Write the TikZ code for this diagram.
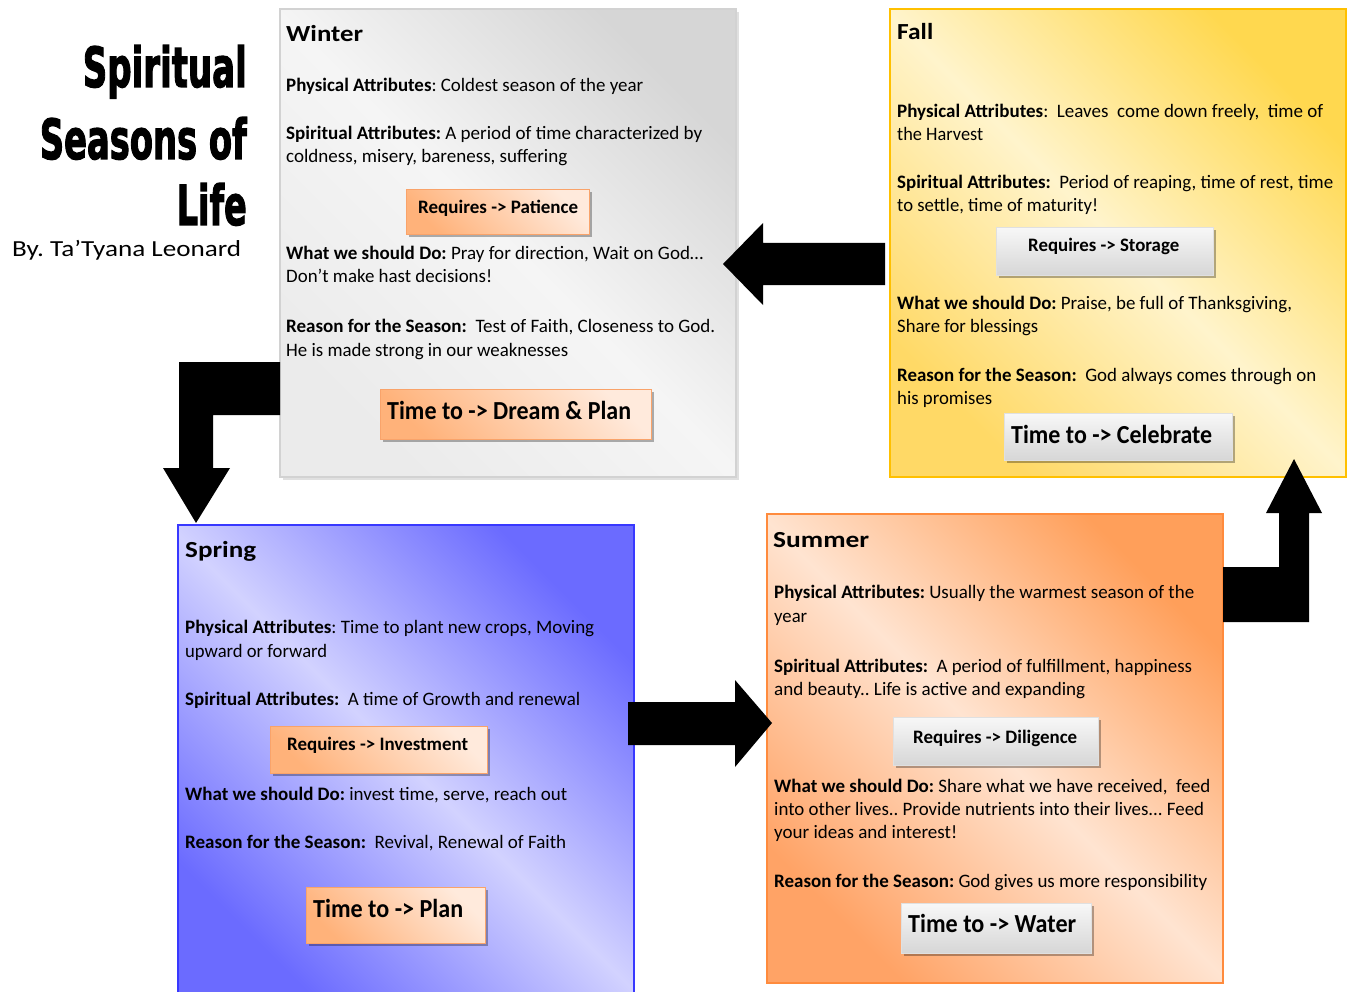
\documentclass[tikz,border=0pt]{standalone}
\usepackage{fontspec}
\setmainfont{Carlito}
\newfontfamily\titlefont[BoldFeatures={FakeBold=2.5}]{DejaVu Sans}
\usepackage{graphicx}
\usetikzlibrary{shadows}
\definecolor{wlo}{HTML}{EBEBEB}\definecolor{wmid}{HTML}{F5F5F5}\definecolor{whi}{HTML}{D6D6D6}\definecolor{wbord}{HTML}{D2D2D2}
\definecolor{flo}{HTML}{FFD966}\definecolor{fmid}{HTML}{FFF4CC}\definecolor{fhi}{HTML}{FFD84F}\definecolor{fbord}{HTML}{FFC000}
\definecolor{slo}{HTML}{6B6BFF}\definecolor{smid}{HTML}{D2D2FF}\definecolor{shi}{HTML}{6B6BFF}\definecolor{sbord}{HTML}{3838FF}
\definecolor{ulo}{HTML}{FFA366}\definecolor{umid}{HTML}{FFE4D1}\definecolor{uhi}{HTML}{FF9F5A}\definecolor{ubord}{HTML}{FF8B3D}
\definecolor{olo}{HTML}{FFB27A}\definecolor{ohi}{HTML}{FFEADC}\definecolor{obord}{HTML}{F9A36A}
\newcommand{\tx}[6]{\node[#1] (#2) at (#3,#4) {\resizebox{#5pt}{\height}{#6}};}
\frenchspacing
\tikzset{
  panel/.style={anchor=north west, inner sep=0pt, outer sep=0pt, line width=1.2pt},
  winterfill/.style={draw=wbord, top color=whi, bottom color=wlo, middle color=wmid, shading angle=-45,
     drop shadow={shadow xshift=3pt, shadow yshift=-3pt, fill=black, opacity=0.12}},
  fallfill/.style={draw=fbord, line width=1.6pt, top color=fhi, bottom color=flo, middle color=fmid, shading angle=-45},
  springfill/.style={draw=sbord, top color=shi, bottom color=slo, middle color=smid, shading angle=-45},
  summerfill/.style={draw=ubord, line width=1.6pt, top color=uhi, bottom color=ulo, middle color=umid, shading angle=-45},
  obox/.style={anchor=north west, inner sep=0pt, draw=obord, line width=0.8pt, top color=ohi, bottom color=olo, shading angle=-45,
     drop shadow={shadow xshift=3pt, shadow yshift=-3pt, fill=black, opacity=0.3}},
  gbox/.style={anchor=north west, inner sep=0pt, draw=black!12, line width=0.6pt, top color=white!97!black, bottom color=black!16,
     drop shadow={shadow xshift=3pt, shadow yshift=-3pt, fill=black, opacity=0.3}},
  tb/.style={anchor=base west, inner sep=0pt, font=\fontsize{19}{22}\selectfont},
  th/.style={anchor=base west, inner sep=0pt, font=\bfseries\fontsize{23}{27}\selectfont},
  tq/.style={anchor=base west, inner sep=0pt, font=\bfseries\fontsize{19}{22}\selectfont},
  tt/.style={anchor=base west, inner sep=0pt, font=\bfseries\fontsize{26}{30}\selectfont},
  ttl/.style={anchor=base east, inner sep=0pt, font=\titlefont\bfseries\fontsize{40}{44}\selectfont},
  byl/.style={anchor=base west, inner sep=0pt, font=\fontsize{23}{27}\selectfont},
  blockarrow/.style={fill=black}
}
\begin{document}
\begin{tikzpicture}[x=1pt,y=-1pt]
\useasboundingbox (0,0) rectangle (1351,992);
\fill[white] (0,0) rectangle (1351,992);

% title
\node[ttl] (t1) at (247,87) {\resizebox{164pt}{42pt}{Spiritual}};
\node[ttl] (t2) at (247,159) {\resizebox{207pt}{42pt}{Seasons of}};
\node[ttl] (t3) at (247,225) {\resizebox{70pt}{42pt}{Life}};
\node[byl] (by) at (12,257) {\resizebox{229pt}{\height}{By. Ta’Tyana Leonard}};

% panels
\node[panel, winterfill, minimum width=456pt, minimum height=468pt] (winter) at (280,9) {};
\node[panel, fallfill, minimum width=456pt, minimum height=468pt] (fall) at (890,9) {};
\node[panel, springfill, minimum width=456pt, minimum height=475pt] (spring) at (178,525) {};
\node[panel, summerfill, minimum width=456pt, minimum height=469pt] (summer) at (767,514) {};

% inner boxes
\node[obox, minimum width=183pt, minimum height=45pt] (wQb) at (406,189) {};
\node[obox, minimum width=271pt, minimum height=50pt] (wXb) at (380,389) {};
\node[gbox, minimum width=217pt, minimum height=48pt] (fQb) at (996,227) {};
\node[gbox, minimum width=228pt, minimum height=47pt] (fXb) at (1004,413) {};
\node[obox, minimum width=217pt, minimum height=47pt] (sQb) at (270,726) {};
\node[obox, minimum width=179pt, minimum height=56pt] (sXb) at (306,887) {};
\node[gbox, minimum width=205pt, minimum height=48pt] (uQb) at (893,717) {};
\node[gbox, minimum width=190pt, minimum height=50pt] (uXb) at (901,903) {};

% Winter
\tx{th}{wT}{286}{42}{77}{Winter}
\tx{tb}{wP}{286}{92}{357}{\textbf{Physical Attributes}: Coldest season of the year}
\tx{tb}{wS1}{286}{140}{416}{\textbf{Spiritual Attributes:} A period of time characterized by}
\tx{tb}{wS2}{286}{163}{281}{coldness, misery, bareness, suffering}
\tx{tq}{wQ}{418}{214}{160}{Requires -> Patience}
\tx{tb}{wD1}{286}{260}{417}{\textbf{What we should Do:} Pray for direction, Wait on God…}
\tx{tb}{wD2}{286}{283}{206}{Don’t make hast decisions!}
\tx{tb}{wR1}{286}{332}{429}{\textbf{Reason for the Season:}\ \ Test of Faith, Closeness to God.}
\tx{tb}{wR2}{286}{356}{282}{He is made strong in our weaknesses}
\tx{tt}{wX}{387}{419}{244}{Time to -> Dream \& Plan}

% Fall
\tx{th}{fT}{897}{40}{36}{Fall}
\tx{tb}{fP1}{897}{118}{426}{\textbf{Physical Attributes}:\ \ Leaves\ \ come down freely,\ \ time of}
\tx{tb}{fP2}{897}{141}{86}{the Harvest}
\tx{tb}{fS1}{897}{189}{436}{\textbf{Spiritual Attributes:}\ \ Period of reaping, time of rest, time}
\tx{tb}{fS2}{897}{212}{201}{to settle, time of maturity!}
\tx{tq}{fQ}{1028}{252}{151}{Requires -> Storage}
\tx{tb}{fD1}{897}{309}{395}{\textbf{What we should Do:} Praise, be full of Thanksgiving,}
\tx{tb}{fD2}{897}{332}{141}{Share for blessings}
\tx{tb}{fR1}{897}{381}{419}{\textbf{Reason for the Season:}\ \ God always comes through on}
\tx{tb}{fR2}{897}{404}{95}{his promises}
\tx{tt}{fX}{1011}{443}{201}{Time to -> Celebrate}

% Spring
\tx{th}{sT}{185}{557}{71}{Spring}
\tx{tb}{sP1}{185}{633}{409}{\textbf{Physical Attributes}: Time to plant new crops, Moving}
\tx{tb}{sP2}{185}{657}{142}{upward or forward}
\tx{tb}{sS}{185}{705}{395}{\textbf{Spiritual Attributes:}\ \ A time of Growth and renewal}
\tx{tq}{sQ}{287}{750}{181}{Requires -> Investment}
\tx{tb}{sD}{185}{800}{382}{\textbf{What we should Do:} invest time, serve, reach out}
\tx{tb}{sR}{185}{848}{381}{\textbf{Reason for the Season:}\ \ Revival, Renewal of Faith}
\tx{tt}{sX}{313}{917}{150}{Time to -> Plan}

% Summer
\tx{th}{uT}{773}{547}{96}{Summer}
\tx{tb}{uP1}{774}{598}{420}{\textbf{Physical Attributes:} Usually the warmest season of the}
\tx{tb}{uP2}{774}{622}{33}{year}
\tx{tb}{uS1}{774}{672}{418}{\textbf{Spiritual Attributes:}\ \ A period of fulfillment, happiness}
\tx{tb}{uS2}{774}{695}{311}{and beauty.. Life is active and expanding}
\tx{tq}{uQ}{913}{743}{164}{Requires -> Diligence}
\tx{tb}{uD1}{774}{792}{436}{\textbf{What we should Do:} Share what we have received,\ \ feed}
\tx{tb}{uD2}{774}{815}{430}{into other lives.. Provide nutrients into their lives... Feed}
\tx{tb}{uD3}{774}{838}{183}{your ideas and interest!}
\tx{tb}{uR}{774}{887}{433}{\textbf{Reason for the Season:} God gives us more responsibility}
\tx{tt}{uX}{908}{932}{168}{Time to -> Water}

% block arrows
\fill[blockarrow] (885,243) -- (763,243) -- (763,223) -- (723,264) -- (763,305) -- (763,285) -- (885,285) -- cycle;
\fill[blockarrow] (628,702) -- (735,702) -- (735,680) -- (772,723) -- (735,767) -- (735,745) -- (628,745) -- cycle;
\fill[blockarrow] (280,362) -- (179,362) -- (179,468) -- (163,468) -- (196,523) -- (230,468) -- (213,468) -- (213,415) -- (280,415) -- cycle;
\fill[blockarrow] (1223,567) -- (1279,567) -- (1279,513) -- (1266,513) -- (1294,459) -- (1322,513) -- (1309,513) -- (1309,622) -- (1223,622) -- cycle;
\end{tikzpicture}
\end{document}
